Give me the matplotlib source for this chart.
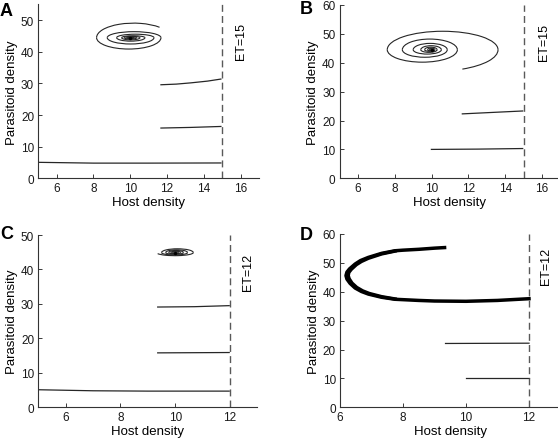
import numpy as np
import matplotlib
matplotlib.use("Agg")
from matplotlib import pyplot as plt
from matplotlib.patches import Arc

plt.rcParams['font.family'] = ['Liberation Sans', 'DejaVu Sans']

# Panel A (ET = 15)
a_lines = [
    ([11.67, 12.5, 13.3, 14.2, 14.93], [29.6, 29.8, 30.2, 30.75, 31.4]),
    ([11.67, 13.3, 14.93], [15.9, 16.1, 16.4]),
    ([5.0, 8.0, 11.0, 14.93], [5.05, 4.8, 4.8, 4.85]),
]
# spiral: alternating horizontal extremes, and the vertical extreme of each half turn
a_spiral_x = [12.2, 8.17, 11.67, 8.75, 11.29, 9.26, 10.8, 9.53, 10.53, 9.68, 10.35,
              9.8, 10.22, 9.87, 10.14, 9.92, 10.08]
a_spiral_y = [49.1, 40.9, 46.4, 42.5, 45.6, 43.4, 45.1, 43.8, 44.9, 44.05, 44.75,
              44.2, 44.65, 44.3, 44.6, 44.4]
a_spiral_tail = (11.6, 47.8)

# Panel B (ET = 15)
b_lines = [
    ([11.67, 13.3, 14.95], [22.3, 22.8, 23.3]),
    ([9.99, 12.5, 14.95], [10.0, 10.1, 10.3]),
]
b_spiral_x = [6.6, 13.61, 7.59, 11.4, 8.41, 10.85, 9.0, 10.53, 9.41, 10.3, 9.62,
              10.18, 9.78, 10.1, 9.88, 10.05, 9.94]
b_spiral_y = [37.0, 50.9, 40.2, 48.2, 41.9, 46.7, 43.0, 45.9, 43.6, 45.4, 43.95,
              45.1, 44.15, 44.9, 44.3, 44.7]
b_spiral_tail = (11.67, 37.8)

# Panel C (ET = 12)
c_lines = [
    ([9.36, 10.7, 11.97], [29.1, 29.2, 29.5]),
    ([9.36, 10.7, 11.97], [15.8, 15.85, 15.9]),
    ([5.0, 7.0, 9.0, 11.97], [5.1, 4.8, 4.7, 4.7]),
]
c_spiral_x = [9.32, 10.66, 9.5, 10.45, 9.65, 10.3, 9.76, 10.2, 9.84, 10.12, 9.9, 10.07]
c_spiral_y = [44.0, 46.0, 44.2, 45.7, 44.4, 45.5, 44.55, 45.3, 44.65, 45.15, 44.75]
c_spiral_tail = (9.36, 44.6)

# Panel D (ET = 12)
d_lines = [
    ([9.35, 12.0], [22.1, 22.2]),
    ([10.0, 12.0], [10.0, 10.0]),
]
d_cycle_x = [9.32, 9.0, 8.5, 8.0, 7.75, 7.32, 6.9, 6.65, 6.48, 6.3, 6.22, 6.19,
             6.22, 6.32, 6.48, 6.68, 6.9, 7.32, 7.75, 8.5, 9.0, 10.0, 11.0, 12.0]
d_cycle_y = [55.3, 55.1, 54.7, 54.4, 54.2, 53.3, 51.9, 50.8, 49.6, 47.9, 46.8, 45.6,
             44.4, 42.9, 41.3, 40.1, 39.2, 38.1, 37.4, 37.0, 36.8, 36.7, 37.0, 37.6]
# inner edge of the repeated cycles around the turn
d_inner_x = [7.75, 7.32, 6.9, 6.68, 6.52, 6.36, 6.28, 6.26, 6.29, 6.38, 6.53, 6.72,
             6.93, 7.32, 7.75]
d_inner_y = [54.1, 53.1, 51.6, 50.5, 49.4, 47.8, 46.7, 45.6, 44.5, 43.0, 41.5, 40.3,
             39.4, 38.3, 37.5]

line_col = '0.15'


def draw_spiral(ax, xs, ys, cy, first_upper, tail):
    upper = first_upper
    for i in range(len(ys)):
        cx = (xs[i] + xs[i + 1]) / 2
        w = abs(xs[i + 1] - xs[i])
        h = 2 * abs(ys[i] - cy)
        t1, t2 = (0, 180) if upper else (180, 360)
        if i == 0:
            t1 = np.degrees(np.arctan2(tail[1] - cy, tail[0] - cx)) % 360
        ax.add_patch(Arc((cx, cy), w, h, theta1=t1, theta2=t2,
                         color=line_col, lw=0.8))
        upper = not upper
    ax.plot([np.mean(xs[-2:])], [cy], 'o', color='k', ms=2.5, mec='none')


def style(ax, xlim, ylim, xticks, yticks, et, et_pos, letter, letter_pos):
    ax.set_xlim(*xlim)
    ax.set_ylim(*ylim)
    ax.set_xticks(xticks)
    ax.set_yticks(yticks)
    ax.spines['top'].set_visible(False)
    ax.spines['right'].set_visible(False)
    for s in ['left', 'bottom']:
        ax.spines[s].set_color('0.2')
        ax.spines[s].set_linewidth(0.8)
    ax.tick_params(direction='in', length=3, width=0.6, labelsize=8.5,
                   colors='0.1', pad=3)
    ax.set_xlabel('Host density', fontsize=9.5, labelpad=1)
    ax.set_ylabel('Parasitoid density', fontsize=9.5, labelpad=2)
    ax.axvline(et, color='0.35', lw=1, linestyle=(0, (5, 3)))
    ax.text(et_pos[0], et_pos[1], 'ET=%d' % et, rotation=90, fontsize=9,
            ha='center', va='center')
    ax.figure.text(letter_pos[0], letter_pos[1], letter, fontsize=13,
                   fontweight='bold', ha='left', va='center')


fig = plt.figure(figsize=(5.58, 4.39), dpi=100)
axA = fig.add_axes([0.0686, 0.5916, 0.3955, 0.3959])
axB = fig.add_axes([0.6086, 0.5916, 0.3957, 0.3948])
axC = fig.add_axes([0.0686, 0.0699, 0.3927, 0.3925])
axD = fig.add_axes([0.6093, 0.0699, 0.3952, 0.3948])

for xs, ys in a_lines:
    axA.plot(xs, ys, color=line_col, lw=0.9)
draw_spiral(axA, a_spiral_x, a_spiral_y, 44.5, True, a_spiral_tail)
style(axA, (5, 17), (0, 55), range(6, 17, 2), range(0, 51, 10), 15, (16.0, 43.5),
      'A', (0.0, 1 - 12 / 439))

for xs, ys in b_lines:
    axB.plot(xs, ys, color=line_col, lw=0.9)
draw_spiral(axB, b_spiral_x, b_spiral_y, 44.5, False, b_spiral_tail)
style(axB, (5, 17), (0, 60), range(6, 17, 2), range(0, 61, 10), 15, (16.1, 47.5),
      'B', (300 / 558, 1 - 10 / 439))

for xs, ys in c_lines:
    axC.plot(xs, ys, color=line_col, lw=0.9)
draw_spiral(axC, c_spiral_x, c_spiral_y, 44.9, False, c_spiral_tail)
style(axC, (5, 13), (0, 50), range(6, 13, 2), range(0, 51, 10), 12, (12.65, 39.3),
      'C', (0.0, 1 - 235 / 439))

for xs, ys in d_lines:
    axD.plot(xs, ys, color=line_col, lw=0.9)
axD.plot(d_cycle_x, d_cycle_y, color='k', lw=2.5, solid_joinstyle='round')
axD.plot(d_inner_x, d_inner_y, color='k', lw=2.5, solid_joinstyle='round')
style(axD, (6, 13), (0, 60), range(6, 13, 2), range(0, 61, 10), 12, (12.53, 49),
      'D', (300 / 558, 1 - 236 / 439))

fig.savefig('out.png', dpi=100)
